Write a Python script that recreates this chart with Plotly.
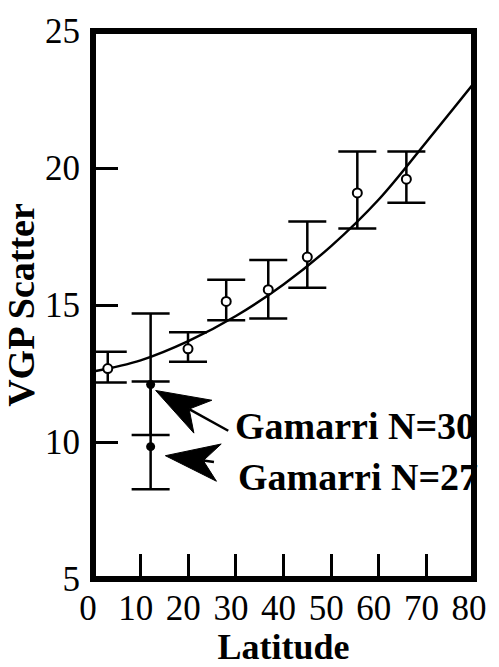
import math
import plotly.graph_objects as go

# ---------------- data ----------------
lat_open = [3.1, 19.95, 27.97, 36.8, 45.0, 55.5, 65.8]
vgp_open = [12.68, 13.40, 15.13, 15.56, 16.75, 19.09, 19.59]
vgp_open_hi = [13.29, 14.01, 15.92, 16.64, 18.05, 20.60, 20.60]
vgp_open_lo = [12.17, 12.93, 14.44, 14.51, 15.63, 17.79, 18.73]

lat_gamarri = [12.1, 12.1]
vgp_gamarri = [12.10, 9.83]
vgp_gamarri_hi = [14.69, 12.21]
vgp_gamarri_lo = [10.26, 8.28]
gamarri_labels = ["Gamarri N=30", "Gamarri N=27"]

curve_lat = [0, 10, 20, 30, 40, 50, 60, 70, 80]
curve_vgp = [12.57, 12.98, 13.68, 14.60, 15.75, 17.15, 18.85, 20.95, 23.1]

x_ticks = [0, 10, 20, 30, 40, 50, 60, 70, 80]
y_ticks = [5, 10, 15, 20, 25]

# label / arrow anchor points (data coordinates)
label_pos = [(29.4, 10.59), (30.0, 8.71)]
arrow_tip = [(13.16, 11.88), (15.2, 9.5)]
arrow_tail = [(28.4, 10.41), (25.4, 9.27)]

# ---------------- layout constants ----------------
W, H = 499, 667
ML, MR, MT, MB = 93, 17, 27, 85
XR = [0, 80]
YR = [5, 25]
PW, PH = W - ML - MR, H - MT - MB

def d2p(x, y):
    return (ML + (x - XR[0]) / (XR[1] - XR[0]) * PW,
            MT + (YR[1] - y) / (YR[1] - YR[0]) * PH)

def p2d(px, py):
    return (XR[0] + (px - ML) / PW * (XR[1] - XR[0]),
            YR[1] - (py - MT) / PH * (YR[1] - YR[0]))

serif = "Liberation Serif"
fig = go.Figure()

fig.add_trace(go.Scatter(
    x=curve_lat, y=curve_vgp, mode="lines",
    line=dict(color="black", width=2.5, shape="spline", smoothing=1.0),
    hoverinfo="skip", showlegend=False))

fig.add_trace(go.Scatter(
    x=lat_gamarri, y=vgp_gamarri, mode="markers",
    marker=dict(symbol="circle", size=9, color="black"),
    error_y=dict(type="data", symmetric=False,
                 array=[h - v for h, v in zip(vgp_gamarri_hi, vgp_gamarri)],
                 arrayminus=[v - l for l, v in zip(vgp_gamarri_lo, vgp_gamarri)],
                 color="black", thickness=2.5, width=19),
    showlegend=False))

fig.add_trace(go.Scatter(
    x=lat_open, y=vgp_open, mode="markers",
    marker=dict(symbol="circle", size=9, color="white",
                line=dict(color="black", width=2)),
    error_y=dict(type="data", symmetric=False,
                 array=[h - v for h, v in zip(vgp_open_hi, vgp_open)],
                 arrayminus=[v - l for l, v in zip(vgp_open_lo, vgp_open)],
                 color="black", thickness=2.5, width=19),
    showlegend=False))

shapes = [dict(type="rect", xref="paper", yref="paper", x0=0, x1=1, y0=0, y1=1,
               line=dict(color="black", width=6), fillcolor="rgba(0,0,0,0)", layer="above")]

# big barbed arrowheads
L_HEAD, W_HEAD, NOTCH = 55, 19, 39
for (tx, ty), (sx, sy) in zip(arrow_tip, arrow_tail):
    tpx, tpy = d2p(tx, ty)
    spx, spy = d2p(sx, sy)
    dx, dy = tpx - spx, tpy - spy
    n = math.hypot(dx, dy)
    ux, uy = dx / n, dy / n
    nx, ny = -uy, ux
    pts = [(tpx, tpy),
           (tpx - L_HEAD * ux + W_HEAD * nx, tpy - L_HEAD * uy + W_HEAD * ny),
           (tpx - NOTCH * ux, tpy - NOTCH * uy),
           (tpx - L_HEAD * ux - W_HEAD * nx, tpy - L_HEAD * uy - W_HEAD * ny)]
    dpts = [p2d(*p) for p in pts]
    path = "M " + " L ".join(f"{a},{b}" for a, b in dpts) + " Z"
    shapes.append(dict(type="path", path=path, xref="x", yref="y",
                       fillcolor="black", line=dict(color="black", width=1)))
    nxp, nyp = p2d(tpx - NOTCH * ux, tpy - NOTCH * uy)
    shapes.append(dict(type="line", xref="x", yref="y", x0=nxp, y0=nyp, x1=sx, y1=sy,
                       line=dict(color="black", width=2.5)))

annotations = []
for (lx, ly), txt in zip(label_pos, gamarri_labels):
    annotations.append(dict(x=lx, y=ly, xref="x", yref="y", text=txt, showarrow=False,
                            xanchor="left", yanchor="middle",
                            font=dict(family=serif, size=38, color="black", weight="bold")))

fig.update_layout(
    width=W, height=H, margin=dict(l=ML, r=MR, t=MT, b=MB),
    paper_bgcolor="white", plot_bgcolor="white",
    shapes=shapes, annotations=annotations,
    xaxis=dict(range=XR, tickvals=x_ticks, ticktext=[str(v) for v in x_ticks],
               ticks="inside", ticklen=25, tickwidth=2.5, tickcolor="black",
               showgrid=False, zeroline=False, showline=False,
               tickfont=dict(family=serif, size=35, color="black"),
               ticklabelstandoff=5, ticklabelshift=-5,
               title=dict(text="<b>Latitude</b>", standoff=2,
                          font=dict(family=serif, size=36, color="black"))),
    yaxis=dict(range=YR, tickvals=y_ticks, ticktext=[str(v) for v in y_ticks],
               ticks="inside", ticklen=25, tickwidth=2.5, tickcolor="black",
               showgrid=False, zeroline=False, showline=False,
               tickfont=dict(family=serif, size=35, color="black"),
               ticklabelstandoff=12,
               title=dict(text="<b>VGP Scatter</b>", standoff=2,
                          font=dict(family=serif, size=38, color="black"))),
)

fig.write_html("out.html")
